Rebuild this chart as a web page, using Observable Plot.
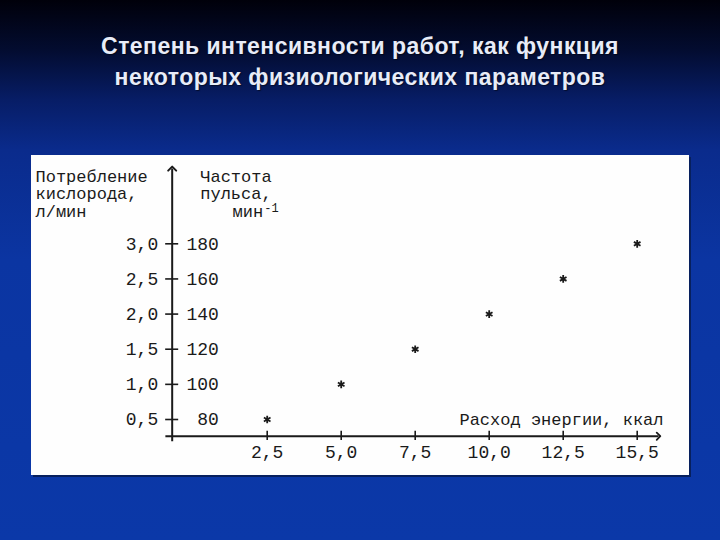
<!DOCTYPE html>
<html>
<head>
<meta charset="utf-8">
<script src="https://cdn.jsdelivr.net/npm/d3@7"></script>
<script src="https://cdn.jsdelivr.net/npm/@observablehq/plot@0.6"></script>
<style>
  html, body { margin: 0; padding: 0; }
  body {
    width: 720px; height: 540px; overflow: hidden; position: relative;
    background: linear-gradient(to bottom, #00000a 0px, #030c30 50px, #071d66 100px, #0a2b8c 150px, #0b35a2 260px, #0b38a8 540px);
    font-family: "Liberation Sans", Arial, sans-serif;
  }
  #title {
    position: absolute; left: 0; top: 31px; width: 720px;
    text-align: center; color: #e8ecf8; font-weight: bold;
    font-size: 23px; line-height: 31px; letter-spacing: 0.45px;
    text-shadow: 1px 1px 1px rgba(0,0,0,0.5);
  }
  #panel {
    position: absolute; left: 31px; top: 155px; width: 658px; height: 320px;
    background: #fefefe; box-shadow: 2px 2px 0 #07205e;
  }
  #panel svg { background: transparent; display: block; }
</style>
</head>
<body>
<div id="title">Степень интенсивности работ, как функция<br>некоторых физиологических параметров</div>
<div id="panel"></div>
<script>
// ---- data ----
const energy = [2.5, 5.0, 7.5, 10.0, 12.5, 15.0];
const energyLabels = ["2,5", "5,0", "7,5", "10,0", "12,5", "15,5"];
const oxygen = [0.5, 1.0, 1.5, 2.0, 2.5, 3.0];          // л/мин, measured points
const oxygenTicks = [0.5, 1.0, 1.5, 2.0, 2.5, 3.0];
const oxygenLabels = ["0,5", "1,0", "1,5", "2,0", "2,5", "3,0"];
const pulseLabels = ["80", "100", "120", "140", "160", "180"];
const leftHeader = ["Потребление", "кислорода,", "л/мин"];
const rightHeader = ["Частота", "пульса,"];
const rightHeaderUnit = "мин";
const rightHeaderExp = "-1";
const xTitle = "Расход энергии, ккал";

// axis geometry in data units
const yAxisX = -0.71, xAxisStart = -0.94, xAxisEnd = 15.72;
const baseline = 0.262, yAxisTop = 4.07, yAxisBottom = 0.19;

const points = energy.map((e, i) => ({e, o: oxygen[i]}));
const yTicks = oxygenTicks.map((o, i) => ({o, l: oxygenLabels[i], p: pulseLabels[i]}));
const xTicks = energy.map((e, i) => ({e, l: energyLabels[i]}));
const leftRows = leftHeader.map((t, i) => ({t, i}));
const rightRows = rightHeader.map((t, i) => ({t, i}));

const font = "Liberation Mono, Courier New, monospace";
const ink = "#1a1a1a";
const lineStep = 17.5;

const chart = Plot.plot({
  width: 658, height: 320,
  marginTop: 0, marginRight: 0, marginBottom: 0, marginLeft: 0,
  style: {fontFamily: font, background: "transparent"},
  x: {domain: [2.5, 15], range: [235.7, 605.7], axis: null},
  y: {domain: [0.5, 3.0], range: [264, 88.3], axis: null},
  marks: [
    // y axis with arrow
    Plot.link([{x1: yAxisX, y1: yAxisBottom, x2: yAxisX, y2: yAxisTop}],
      {x1: "x1", y1: "y1", x2: "x2", y2: "y2", stroke: ink, strokeWidth: 2, markerEnd: "arrow"}),
    // x axis with arrow
    Plot.link([{x1: xAxisStart, y1: baseline, x2: xAxisEnd, y2: baseline}],
      {x1: "x1", y1: "y1", x2: "x2", y2: "y2", stroke: ink, strokeWidth: 1.8, markerEnd: "arrow"}),
    // y ticks (cross the axis)
    Plot.ruleY(yTicks, {y: "o", x1: yAxisX - 0.22, x2: yAxisX + 0.22, stroke: ink, strokeWidth: 1.6}),
    // x ticks
    Plot.ruleX(xTicks, {x: "e", y1: baseline - 0.06, y2: baseline + 0.07, stroke: ink, strokeWidth: 1.6}),
    // y tick labels (oxygen, left)
    Plot.text(yTicks, {x: () => yAxisX, y: "o", text: "l", textAnchor: "end", dx: -14,
      fontSize: 18, fill: ink}),
    // y tick labels (pulse, right)
    Plot.text(yTicks, {x: () => yAxisX, y: "o", text: "p", textAnchor: "end", dx: 46.6,
      fontSize: 18, fill: ink}),
    // x tick labels
    Plot.text(xTicks, {x: "e", y: () => baseline, text: "l", textAnchor: "middle", dy: 16.5,
      fontSize: 18, fill: ink}),
    // x title
    Plot.text([xTitle], {x: () => xAxisEnd, y: () => baseline, text: d => d, textAnchor: "end",
      dx: 5, dy: -17, fontSize: 17, fill: ink}),
    // left header (one text per line)
    ...leftRows.map(r => Plot.text([r], {x: () => yAxisX, y: () => yAxisTop, text: "t", textAnchor: "start",
      lineAnchor: "top", dx: -136.7, dy: 1 + r.i * lineStep, fontSize: 17, fill: ink})),
    // right header
    ...rightRows.map(r => Plot.text([r], {x: () => yAxisX, y: () => yAxisTop, text: "t", textAnchor: "end",
      lineAnchor: "top", dx: 99.5, dy: 1 + r.i * lineStep, fontSize: 17, fill: ink})),
    Plot.text([rightHeaderUnit], {x: () => yAxisX, y: () => yAxisTop, text: d => d, textAnchor: "end",
      lineAnchor: "top", dx: 91, dy: 1 + 2 * lineStep, fontSize: 17, fill: ink}),
    Plot.text([rightHeaderExp], {x: () => yAxisX, y: () => yAxisTop, text: d => d, textAnchor: "start",
      lineAnchor: "top", dx: 92, dy: 35, fontSize: 12, fill: ink}),
    // data points
    Plot.dot(points, {x: "e", y: "o", symbol: "asterisk", r: 3.6, stroke: ink, strokeWidth: 1.8})
  ]
});
document.getElementById("panel").appendChild(chart);
</script>
</body>
</html>
